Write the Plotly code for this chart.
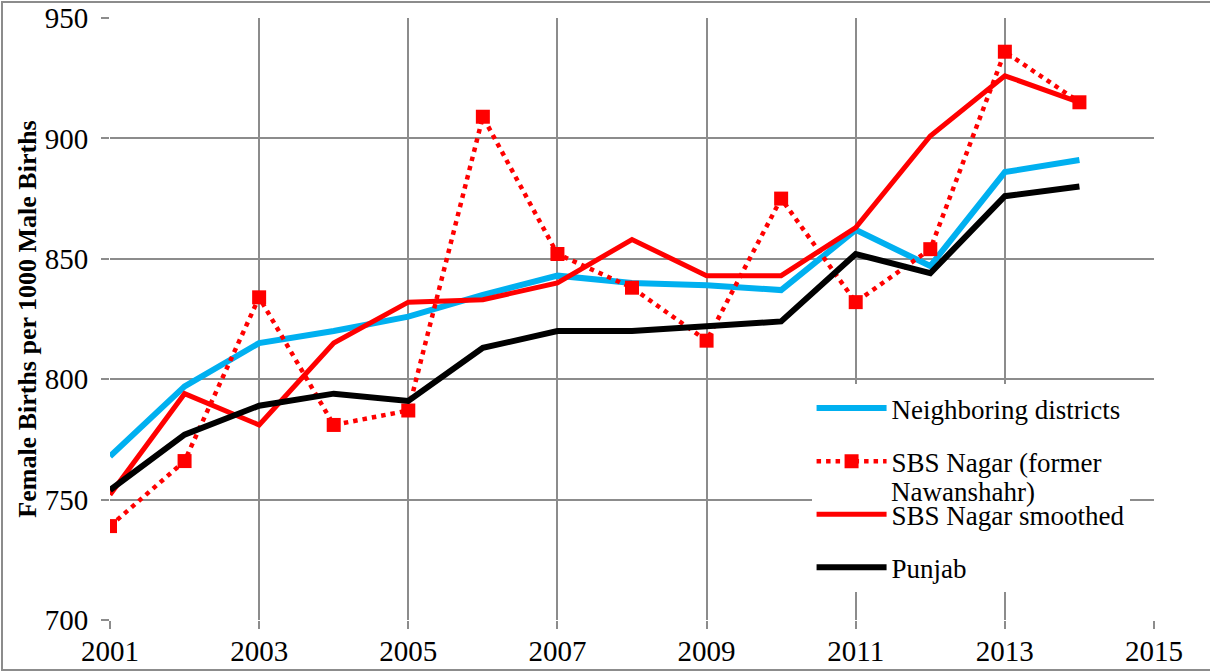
import plotly.graph_objects as go

years = list(range(2001, 2015))
neighboring = [768, 797, 815, 820, 826, 835, 843, 840, 839, 837, 862, 847, 886, 891]
sbs_nagar = [739, 766, 834, 781, 787, 909, 852, 838, 816, 875, 832, 854, 936, 915]
sbs_smoothed = [752, 794, 781, 815, 832, 833, 840, 858, 843, 843, 863, 901, 926, 915]
punjab = [754, 777, 789, 794, 791, 813, 820, 820, 822, 824, 852, 844, 876, 880]

names = ["Neighboring districts", "SBS Nagar (former", "SBS Nagar smoothed", "Punjab"]
name_cont = "Nawanshahr)"

FONT = "Liberation Serif, Times New Roman, serif"
GRID = "#8c8c8c"

fig = go.Figure()
fig.add_trace(go.Scatter(x=years, y=neighboring, name=names[0], mode="lines",
                         line=dict(color="#00b0f0", width=6), legendgroup="a"))
fig.add_trace(go.Scatter(x=years, y=sbs_nagar, name=names[1], mode="lines+markers",
                         line=dict(color="#ff0000", width=4.5, dash="4.5px,5px"),
                         marker=dict(symbol="square", size=14, color="#ff0000"), legendgroup="b"))
fig.add_trace(go.Scatter(x=years, y=sbs_smoothed, name=names[2], mode="lines",
                         line=dict(color="#ff0000", width=5), legendgroup="c"))
fig.add_trace(go.Scatter(x=years, y=punjab, name=names[3], mode="lines",
                         line=dict(color="#000000", width=6), legendgroup="d"))

fig.update_layout(
    width=1210, height=672,
    margin=dict(l=110, r=56, t=18, b=52),
    paper_bgcolor="white", plot_bgcolor="white",
    font=dict(family=FONT, size=26, color="black"),
    showlegend=True,
    legend=dict(x=0.672, y=0.392, xanchor="left", yanchor="top",
                bgcolor="white", borderwidth=0, tracegroupgap=15,
                font=dict(family=FONT, size=27), itemwidth=70),
    xaxis=dict(range=[2001, 2015], dtick=2, tick0=2001, showgrid=True, gridcolor=GRID, gridwidth=2,
               showline=False, zeroline=False, ticks="outside", ticklen=8, tickcolor=GRID, tickwidth=2,
               tickfont=dict(family=FONT, size=29), automargin=False, ticklabelstandoff=-3),
    yaxis=dict(range=[700, 950], dtick=50, showgrid=True, gridcolor=GRID, gridwidth=2,
               showline=False, zeroline=False, ticks="outside", ticklen=8, tickcolor=GRID, tickwidth=2,
               tickfont=dict(family=FONT, size=29), automargin=False, ticklabelstandoff=7,
               title=dict(text="<b>Female Births per 1000 Male Births</b>", standoff=0,
                          font=dict(family=FONT, size=26))),
    shapes=[dict(type="rect", xref="paper", yref="paper", x0=-108/1044, x1=1.06, y0=-50/602, y1=1 + 16/602,
                 line=dict(color="#8c8c8c", width=2), fillcolor="rgba(0,0,0,0)", layer="below")],
    annotations=[dict(text=name_cont, xref="paper", yref="paper", x=(889 - 110) / 1044, y=(620 - 492) / 602,
                      xanchor="left", yanchor="middle", showarrow=False,
                      font=dict(family=FONT, size=27, color="black"))],
)

fig.write_html("out.html", config={"displayModeBar": False},
               post_script="document.body.style.margin='0';")
